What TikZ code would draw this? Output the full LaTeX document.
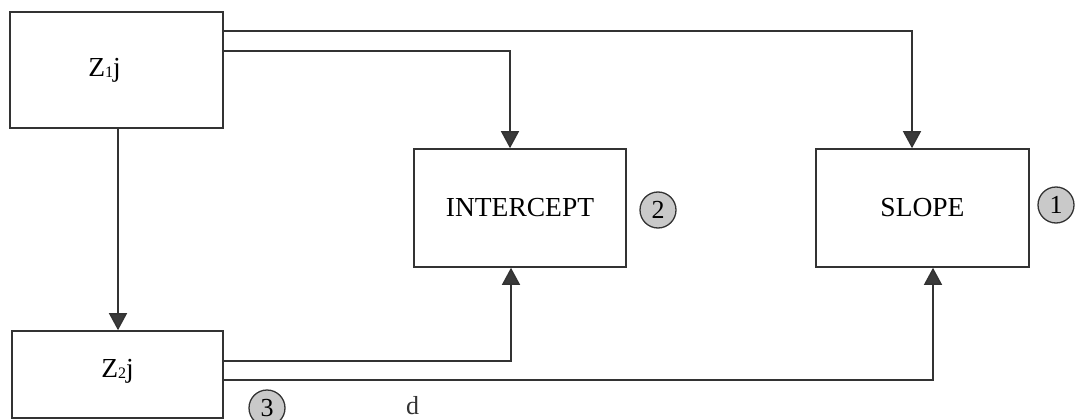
\documentclass[tikz,border=0pt]{standalone}
\usepackage{fontspec}
\setmainfont{Liberation Serif}
\usetikzlibrary{arrows.meta,calc}
\definecolor{ink}{HTML}{333333}
\definecolor{tipgray}{HTML}{3A3A3A}
\definecolor{badge}{HTML}{C9C9C9}
\begin{document}
\begin{tikzpicture}[x=1pt,y=-1pt,
  box/.style={draw=ink,line width=1.6pt,fill=white,inner sep=0pt,
    font=\fontsize{27.5}{32}\selectfont},
  link/.style={draw=ink,line width=1.5pt},
  arr/.style={link,-{Triangle[width=18pt,length=17pt,fill=tipgray]}},
  badgenum/.style={circle,draw=ink,line width=1.3pt,fill=badge,
    minimum size=36pt,inner sep=0pt,font=\fontsize{26}{26}\selectfont}]
\useasboundingbox (0,0) rectangle (1079,420);
\fill[white] (0,0) rectangle (1079,420);

% blocks
\node[box,minimum width=213pt,minimum height=116pt] (z1) at (116.5,70)
  {\hspace*{-24pt}\raisebox{-2pt}{Z\raisebox{-1pt}{\fontsize{16}{16}\selectfont 1}j}};
\node[box,minimum width=211pt,minimum height=87pt] (z2) at (117.5,374.5)
  {\raisebox{12pt}{Z\raisebox{-1pt}{\fontsize{16}{16}\selectfont 2}j}};
\node[box,minimum width=212pt,minimum height=118pt] (int) at (520,208) {INTERCEPT};
\node[box,minimum width=213pt,minimum height=118pt] (slope) at (922.5,208) {SLOPE};

% numbered badges
\node[badgenum] (b1) at (1056,205) {1};
\node[badgenum] (b2) at (658,210) {2};
\node[badgenum] (b3) at (267,408) {3};

% stray letter at the lower edge
\node[anchor=base west,inner sep=0pt,text=ink,font=\fontsize{26}{30}\selectfont] (d) at (406,414) {d};

% connectors from Z1j
\draw[arr] ($(z1.north east)+(0,20)$) -| ($(slope.north)+(-10.5,0)$);
\draw[arr] ($(z1.north east)+(0,40)$) -| ($(int.north)+(-10,0)$);
\draw[arr] ($(z1.south)+(1.5,0)$) -- ($(z1.south |- z2.north)+(1.5,0)$);

% connectors from Z2j
\draw[arr] ($(z2.north east)+(0,31)$) -| ($(int.south)+(-9,0)$);
\draw[arr] ($(z2.north east)+(0,50)$) -| ($(slope.south)+(10.5,0)$);
\end{tikzpicture}
\end{document}
